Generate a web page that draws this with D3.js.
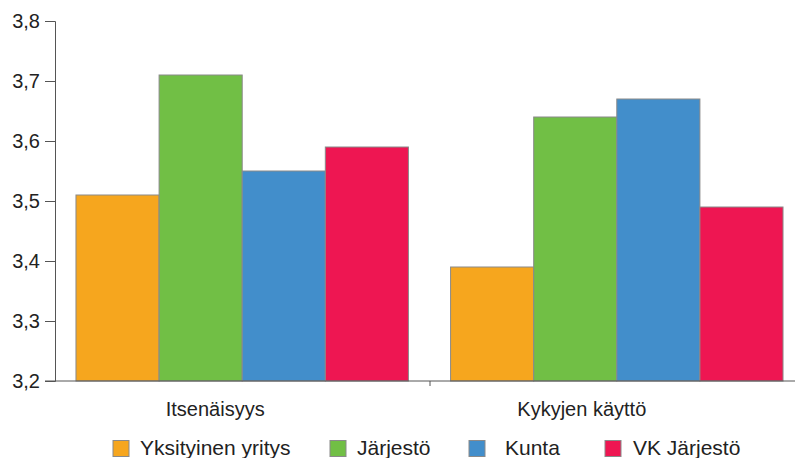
<!DOCTYPE html>
<html><head><meta charset="utf-8">
<script src="https://cdn.jsdelivr.net/npm/d3@7"></script>
<style>body{margin:0;background:#fff}svg{display:block}text{font-family:"Liberation Sans",Arial,sans-serif;fill:#222}</style>
</head><body><svg id="c" width="795" height="458"></svg>
<script>
const categories = ["Itsenäisyys", "Kykyjen käyttö"];
const seriesNames = ["Yksityinen yritys", "Järjestö", "Kunta", "VK Järjestö"];
const yksityinen = [3.51, 3.39];
const jarjesto = [3.71, 3.64];
const kunta = [3.55, 3.67];
const vkJarjesto = [3.59, 3.49];
const yTicks = [3.2, 3.3, 3.4, 3.5, 3.6, 3.7, 3.8];
const colors = ["#F6A61E", "#71BF45", "#428ECB", "#EE1652"];
const seriesValues = [yksityinen, jarjesto, kunta, vkJarjesto];

const svg = d3.select("#c");
const x0 = d3.scaleBand().domain(categories).range([55, 804]).paddingInner(0.1125).paddingOuter(0.056);
const x1 = d3.scaleBand().domain(seriesNames).range([0, x0.bandwidth()]);
const y = d3.scaleLinear().domain([3.2, 3.8]).range([381, 21]);

const g = svg.append("g");
categories.forEach((c, ci) => {
  seriesNames.forEach((s, si) => {
    const v = seriesValues[si][ci];
    g.append("rect")
      .attr("x", x0(c) + x1(s)).attr("y", y(v))
      .attr("width", x1.bandwidth()).attr("height", y(3.2) - y(v))
      .attr("fill", colors[si]).attr("stroke", "#8a8a8a").attr("stroke-width", 1);
  });
});

// y axis
const ya = svg.append("g").attr("transform", "translate(55,0)")
  .call(d3.axisLeft(y).tickValues(yTicks).tickSize(10).tickPadding(5).tickFormat(d => d3.format(".1f")(d).replace(".", ",")));
ya.select(".domain").attr("stroke", "#555");
ya.selectAll(".tick line").attr("stroke", "#555");
ya.selectAll("text").attr("font-size", 20).attr("fill", "#222").style("font-family", '"Liberation Sans",Arial,sans-serif');

// x axis line
svg.append("line").attr("x1", 45).attr("x2", 795).attr("y1", 381).attr("y2", 381).attr("stroke", "#555");
// category separator tick
svg.append("line").attr("x1", 430).attr("x2", 430).attr("y1", 381).attr("y2", 386).attr("stroke", "#555");

const labelShift = [-27, -35];
categories.forEach((c, i) => {
  svg.append("text").attr("x", x0(c) + x0.bandwidth() / 2 + labelShift[i]).attr("y", 416)
    .attr("text-anchor", "middle").attr("font-size", 20).text(c);
});

// legend
const legendX = [113, 330, 469, 605];
const legendTextX = [140, 357, 505, 633];
seriesNames.forEach((s, i) => {
  svg.append("rect").attr("x", legendX[i]).attr("y", 440.5).attr("width", 16).attr("height", 16)
    .attr("fill", colors[i]).attr("stroke", "#8a8a8a");
  svg.append("text").attr("x", legendTextX[i]).attr("y", 455)
    .attr("font-size", 21).text(s);
});
</script></body></html>
